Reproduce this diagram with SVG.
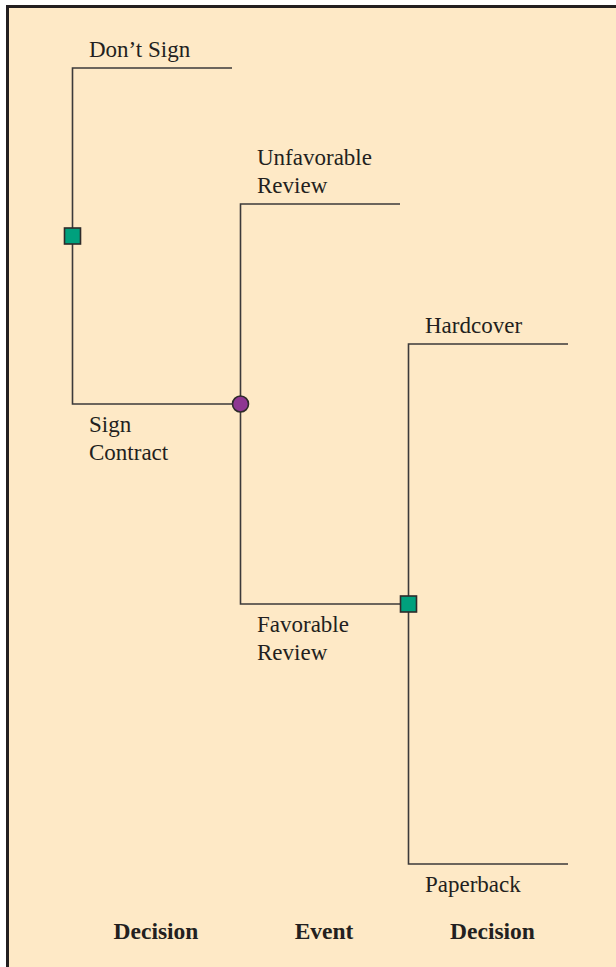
<svg xmlns="http://www.w3.org/2000/svg" width="616" height="967" viewBox="0 0 616 967">
<style>
.bg{fill:#FEE9C6;stroke:#231F20;stroke-width:3}
.ln{fill:none;stroke:#3C3A3A;stroke-width:1.6}
.dec{fill:#00A07D;stroke:#2E2B2B;stroke-width:1.6}
.evt{fill:#8E3692;stroke:#2E2B2B;stroke-width:1.6}
text{font-family:"Liberation Serif","Times New Roman",serif;font-size:23px;fill:#231F20}
.b{font-weight:bold;text-anchor:middle;font-size:23.5px}
</style>
<rect class="bg" x="7.5" y="6.5" width="620" height="970"/>
<g id="connectors">
<path class="ln" d="M232,68 H72.5 V404 H240.5"/>
<path class="ln" d="M400,204 H240.5 V604 H408.5"/>
<path class="ln" d="M568,344 H408.5 V864 H568"/>
</g>
<g id="d1"><rect class="dec" x="64.5" y="228" width="16" height="16"/></g>
<g id="e1"><circle class="evt" cx="240.5" cy="404" r="8"/></g>
<g id="d2"><rect class="dec" x="400.5" y="596" width="16" height="16"/></g>
<g id="labels">
<text x="89" y="57">Don’t Sign</text>
<text x="257" y="165">Unfavorable</text>
<text x="257" y="193">Review</text>
<text x="425" y="333">Hardcover</text>
<text x="89" y="432">Sign</text>
<text x="89" y="460">Contract</text>
<text x="257" y="632">Favorable</text>
<text x="257" y="660">Review</text>
<text x="425" y="892">Paperback</text>
<text class="b" x="156" y="939">Decision</text>
<text class="b" x="324" y="939">Event</text>
<text class="b" x="492.5" y="939">Decision</text>
</g>
</svg>
